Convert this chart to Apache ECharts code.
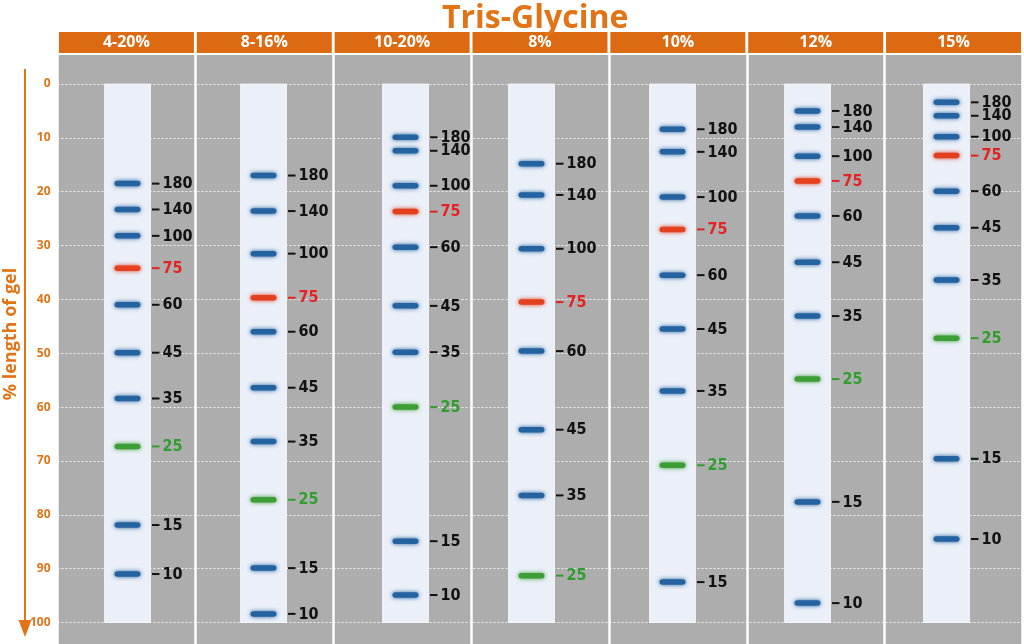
<!DOCTYPE html>
<html>
<head>
<meta charset="utf-8">
<title>Tris-Glycine</title>
<script src="https://cdn.jsdelivr.net/npm/echarts@6/dist/echarts.min.js"></script>
<style>
  html, body { margin: 0; padding: 0; background: #fff; }
  #chart { width: 1024px; height: 644px; }
</style>
</head>
<body>
<div id="chart"></div>
<script>
// gels (columns) and marker sizes in kDa
var gels = ['4-20%', '8-16%', '10-20%', '8%', '10%', '12%', '15%'];
var markers = [180, 140, 100, 75, 60, 45, 35, 25, 15, 10];
var yTicks = [0, 10, 20, 30, 40, 50, 60, 70, 80, 90, 100];

// band position, % length of gel, same order as markers (null = not on gel)
var pos_4_20  = [18.5, 23.3, 28.2, 34.2, 41.0, 49.9, 58.4, 67.3, 81.9, 91.0];
var pos_8_16  = [17.0, 23.6, 31.5, 39.7, 46.0, 56.4, 66.4, 77.2, 89.9, 98.4];
var pos_10_20 = [9.9, 12.4, 18.9, 23.7, 30.3, 41.2, 49.8, 60.0, 84.9, 94.9];
var pos_8     = [14.8, 20.6, 30.6, 40.5, 49.6, 64.2, 76.4, 91.3, null, null];
var pos_10    = [8.4, 12.6, 21.0, 27.0, 35.5, 45.5, 57.0, 70.8, 92.5, null];
var pos_12    = [5.0, 8.0, 13.4, 18.0, 24.5, 33.1, 43.1, 54.8, 77.6, 96.4];
var pos_15    = [3.4, 5.9, 9.8, 13.3, 19.9, 26.7, 36.4, 47.2, 69.6, 84.5];
var allPos = [pos_4_20, pos_8_16, pos_10_20, pos_8, pos_10, pos_12, pos_15];

// layout only (px): lane offset from column centre
var laneShift = [1, -1, 3, -9, -6, -9, -8];
var LANE_W = 46;
var ORANGE = '#e07416';

var bandData = [];
for (var g = 0; g < gels.length; g++) {
  for (var m = 0; m < markers.length; m++) {
    if (allPos[g][m] != null) bandData.push([g, allPos[g][m], markers[m]]);
  }
}

function renderLane(params, api) {
  var gi = api.value(0);
  var top = api.coord([gi, 0]);
  var bot = api.coord([gi, 100]);
  var cx = top[0] + laneShift[gi];
  return {
    type: 'rect',
    shape: { x: cx - LANE_W / 2, y: top[1], width: LANE_W, height: bot[1] - top[1] },
    style: { fill: '#eaeff8', stroke: 'rgba(255,255,255,0.7)', lineWidth: 1 }
  };
}

function renderBand(params, api) {
  var gi = api.value(0);
  var kda = api.value(2);
  var p = api.coord([gi, api.value(1)]);
  var cx = p[0] + laneShift[gi];
  var col = '#2563a0', txt = '#111';
  if (kda === 75) { col = '#e2401e'; txt = '#e42222'; }
  if (kda === 25) { col = '#3c9e34'; txt = '#2f9e2f'; }
  var lx = cx + LANE_W / 2;
  return {
    type: 'group',
    children: [
      { type: 'rect',
        shape: { x: cx - 13, y: p[1] - 2.75, width: 26, height: 5.5, r: 2.75 },
        style: { fill: col, shadowBlur: 4, shadowColor: col } },
      { type: 'line',
        shape: { x1: lx + 1.5, y1: p[1], x2: lx + 9, y2: p[1] },
        style: { stroke: txt, lineWidth: 2 } },
      { type: 'text',
        style: { x: lx + 12, y: p[1] + 0.5, text: String(kda), fill: txt,
          fontSize: 16, fontWeight: 'bold',
          fontFamily: '"Liberation Sans Narrow", "DejaVu Sans Condensed", sans-serif',
          align: 'left', verticalAlign: 'middle' } }
    ]
  };
}

var chart = echarts.init(document.getElementById('chart'));
chart.setOption({
  animation: false,
  title: {
    text: 'Tris-Glycine',
    left: 437, top: -2,
    textStyle: { color: ORANGE, fontSize: 32, fontWeight: 'bold', fontFamily: 'Open Sans' }
  },
  grid: [
    { left: 57.5, right: 0.5, top: 55, bottom: 0, show: true, backgroundColor: '#adadad', borderWidth: 0 },
    { left: 57.5, right: 0.5, top: 84, bottom: 21.5 }
  ],
  xAxis: [
    { type: 'category', gridIndex: 0, data: gels, position: 'top', boundaryGap: true,
      axisLine: { show: false }, axisTick: { show: false },
      splitLine: { show: true, lineStyle: { color: '#fff', width: 2.5 } },
      axisLabel: {
        interval: 0, margin: 2,
        formatter: function (v) { return '{h|' + v + '}'; },
        rich: { h: { backgroundColor: '#dc6a12', width: 135, height: 21, lineHeight: 21,
          align: 'center', color: '#fff', fontSize: 16, fontWeight: 'bold', fontFamily: 'Open Sans' } }
      } },
    { type: 'category', gridIndex: 1, data: gels, show: false }
  ],
  yAxis: [
    { type: 'value', gridIndex: 0, show: false, min: 0, max: 1 },
    { type: 'value', gridIndex: 1, inverse: true, min: yTicks[0], max: yTicks[yTicks.length - 1], interval: 10,
      axisLine: { show: false }, axisTick: { show: false },
      axisLabel: { margin: 7, color: ORANGE, fontSize: 12, fontWeight: 'bold', fontFamily: 'Open Sans' },
      splitLine: { show: true, lineStyle: { color: 'rgba(255,255,255,0.8)', width: 1, type: [2, 2] } } }
  ],
  graphic: [
    { type: 'line', shape: { x1: 25, y1: 69, x2: 25, y2: 624 }, style: { stroke: ORANGE, lineWidth: 2 } },
    { type: 'polygon', shape: { points: [[18.5, 620], [31.5, 620], [25, 637]] }, style: { fill: ORANGE } },
    { type: 'text', x: 11, y: 334, rotation: Math.PI / 2,
      style: { text: '% length of gel', fill: ORANGE, fontSize: 18, fontWeight: 'bold', fontFamily: 'Open Sans',
        align: 'center', verticalAlign: 'middle' } }
  ],
  series: [
    { type: 'custom', name: 'lanes', xAxisIndex: 1, yAxisIndex: 1,
      data: gels.map(function (g, i) { return [i]; }),
      renderItem: renderLane, silent: true, z: 2 },
    { type: 'custom', name: 'bands', xAxisIndex: 1, yAxisIndex: 1,
      data: bandData, encode: { x: 0, y: 1 },
      renderItem: renderBand, silent: true, z: 3 }
  ]
});
</script>
</body>
</html>
